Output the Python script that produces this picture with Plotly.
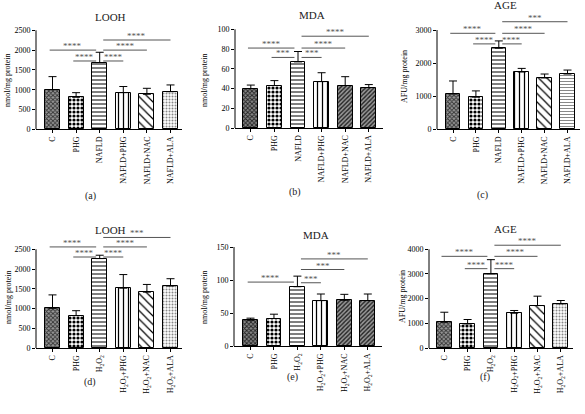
import plotly.graph_objects as go

W, H = 585, 414

cats_nafld = ["C", "PHG", "NAFLD", "NAFLD+PHG", "NAFLD+NAC", "NAFLD+ALA"]
cats_h2o2 = ["C", "PHG", "H<sub>2</sub>O<sub>2</sub>", "H<sub>2</sub>O<sub>2</sub>+PHG",
             "H<sub>2</sub>O<sub>2</sub>+NAC", "H<sub>2</sub>O<sub>2</sub>+ALA"]

looh_nafld_mean = [1000, 810, 1685, 925, 885, 950]
looh_nafld_sd = [330, 115, 260, 155, 150, 170]
mda_nafld_mean = [40, 43, 67, 47, 43, 41]
mda_nafld_sd = [3.5, 5, 10.5, 9, 9, 3]
age_nafld_mean = [1070, 970, 2450, 1730, 1550, 1670]
age_nafld_sd = [390, 190, 220, 110, 120, 120]
looh_h2o2_mean = [1005, 820, 2265, 1515, 1415, 1570]
looh_h2o2_sd = [340, 125, 85, 345, 195, 185]
mda_h2o2_mean = [39.5, 42, 90, 69, 69.5, 69]
mda_h2o2_sd = [3, 6.5, 16, 10, 9, 10]
age_h2o2_mean = [1045, 975, 3010, 1410, 1720, 1790]
age_h2o2_sd = [405, 180, 570, 110, 380, 135]

sig_a = [(0, 2, 2000, "****"), (1, 2, 1725, "****"), (2, 3, 1725, "****"), (2, 4, 2000, "****"), (2, 5, 2255, "****")]
sig_b = [(0, 2, 81, "****"), (1, 2, 71.5, "***"), (2, 3, 71.5, "***"), (2, 4, 81, "****"), (2, 5, 93, "****")]
sig_c = [(0, 2, 2900, "****"), (1, 2, 2580, "****"), (2, 3, 2580, "****"), (2, 4, 2900, "****"), (2, 5, 3250, "***")]
sig_d = [(0, 2, 2560, "****"), (1, 2, 2305, "****"), (2, 3, 2305, "****"), (2, 4, 2560, "****"), (2, 5, 2800, "***")]
sig_e = [(0, 2, 97, "****"), (2, 3, 96, "***"), (2, 4, 116, "***"), (2, 5, 132, "***")]
sig_f = [(0, 2, 3715, "****"), (1, 2, 3215, "****"), (2, 3, 3215, "****"), (2, 4, 3715, "****"), (2, 5, 4165, "****")]

# patterns (style)
PAT_STD = dict(shape=["x", ".", "-", "|", "\\", "."],
               fgcolor=["#333333", "#000000", "#000000", "#000000", "#000000", "#888888"],
               bgcolor=["#999999", "#ffffff", "#ffffff", "#ffffff", "#ffffff", "#ffffff"],
               size=[3, 4, 4, 5, 6, 3], solidity=[0.5, 0.5, 0.25, 0.25, 0.2, 0.35])
PAT_DARK = dict(shape=["x", ".", "-", "|", "/", "/"],
                fgcolor=["#222222", "#000000", "#000000", "#000000", "#222222", "#222222"],
                bgcolor=["#888888", "#ffffff", "#ffffff", "#ffffff", "#999999", "#999999"],
                size=[3, 4, 4, 5, 3, 3], solidity=[0.5, 0.5, 0.25, 0.25, 0.45, 0.45])
PAT_C = dict(shape=["x", ".", "-", "|", "\\", "-"],
             fgcolor=["#333333", "#000000", "#000000", "#000000", "#000000", "#888888"],
             bgcolor=["#999999", "#ffffff", "#ffffff", "#ffffff", "#ffffff", "#ffffff"],
             size=[3, 4, 4, 5, 6, 3], solidity=[0.5, 0.5, 0.25, 0.25, 0.2, 0.35])

panels = [
    dict(title="LOOH", lab="(a)", cats=cats_nafld, mean=looh_nafld_mean, sd=looh_nafld_sd, sig=sig_a,
         ymax=2500, dt=500, ytitle="nmol/mg protein", pat=PAT_STD,
         xl=36, cx0=52.5, sp=23.6, xr=182, y0=129.3, ytp=30.3, top=2,
         tpos=(110, 17), lpos=(90, 196), ytpos=(8, 80)),
    dict(title="MDA", lab="(b)", cats=cats_nafld, mean=mda_nafld_mean, sd=mda_nafld_sd, sig=sig_b,
         ymax=100, dt=20, ytitle="nmol/mg protein", pat=PAT_DARK,
         xl=235, cx0=250.8, sp=23.6, xr=383, y0=128, ytp=29.3, top=2,
         tpos=(312, 15), lpos=(295, 192), ytpos=(205, 80)),
    dict(title="AGE", lab="(c)", cats=cats_nafld, mean=age_nafld_mean, sd=age_nafld_sd, sig=sig_c,
         ymax=3000, dt=1000, ytitle="AFU/mg protein", pat=PAT_C,
         xl=437, cx0=453, sp=22.9, xr=580, y0=129.3, ytp=30, top=2,
         tpos=(505, 5), lpos=(482, 195), ytpos=(405, 77)),
    dict(title="LOOH", lab="(d)", cats=cats_h2o2, mean=looh_h2o2_mean, sd=looh_h2o2_sd, sig=sig_d,
         ymax=2500, dt=500, ytitle="nmol/mg protein", pat=PAT_STD,
         xl=36, cx0=52.5, sp=23.6, xr=182, y0=348, ytp=249.3, top=216,
         tpos=(110, 230), lpos=(90, 382), ytpos=(8, 297)),
    dict(title="MDA", lab="(e)", cats=cats_h2o2, mean=mda_h2o2_mean, sd=mda_h2o2_sd, sig=sig_e,
         ymax=150, dt=50, ytitle="nmol/mg protein", pat=PAT_DARK,
         xl=234, cx0=250.5, sp=23.46, xr=382, y0=346.3, ytp=247, top=216,
         tpos=(316, 235), lpos=(292, 377), ytpos=(204, 297)),
    dict(title="AGE", lab="(f)", cats=cats_h2o2, mean=age_h2o2_mean, sd=age_h2o2_sd, sig=sig_f,
         ymax=4000, dt=1000, ytitle="AFU/mg protein", pat=PAT_STD,
         xl=429, cx0=444.3, sp=23.3, xr=573, y0=348, ytp=249.3, top=216,
         tpos=(505, 229), lpos=(485, 377), ytpos=(402, 297)),
]

FONT = "Liberation Serif"
fig = go.Figure()
shapes, annots = [], []

def px(x):
    return x / W

def py(y):
    return 1 - y / H

for k, p in enumerate(panels):
    n = "" if k == 0 else str(k + 1)
    xa, ya = "x" + n, "y" + n
    s = (p["y0"] - p["ytp"]) / p["ymax"]
    R = (p["y0"] - p["top"]) / s
    xr0 = -(p["cx0"] - p["xl"]) / p["sp"]
    xr1 = (p["xr"] - p["cx0"]) / p["sp"]
    xs = list(range(len(p["cats"])))
    fig.add_trace(go.Bar(
        x=xs, y=p["mean"], width=0.63, xaxis=xa, yaxis=ya, showlegend=False,
        marker=dict(color="white", line=dict(color="black", width=1),
                    pattern=dict(fillmode="replace", **p["pat"])),
        error_y=dict(type="data", symmetric=False, array=p["sd"], arrayminus=[0] * len(xs),
                     color="black", thickness=1, width=4),
    ))
    fig.update_layout({
        ("xaxis" + n): dict(domain=[px(p["xl"]), px(p["xr"])], range=[xr0, xr1], anchor=ya,
                            showline=True, linecolor="black", linewidth=1, ticks="outside",
                            ticklen=3, tickcolor="black", tickvals=xs, ticktext=p["cats"],
                            tickangle=-90, showgrid=False, zeroline=False, automargin=False,
                            tickfont=dict(family=FONT, size=8, color="black")),
        ("yaxis" + n): dict(domain=[py(p["y0"]), py(p["top"])], range=[0, R], anchor=xa,
                            showline=False, ticks="outside", ticklen=3, tickcolor="black",
                            tickvals=list(range(0, p["ymax"] + 1, p["dt"])),
                            showgrid=False, zeroline=False, automargin=False,
                            tickfont=dict(family=FONT, size=8, color="black")),
    })
    shapes.append(dict(type="line", xref=xa + " domain", yref=ya, x0=0, x1=0, y0=0, y1=p["ymax"],
                       line=dict(color="black", width=1)))
    for (i, j, yv, txt) in p["sig"]:
        if i < 2:
            x0, x1 = i - 0.12, 1.85
        else:
            x0, x1 = 2.15, j
        shapes.append(dict(type="line", xref=xa, yref=ya, x0=x0, x1=x1, y0=yv, y1=yv,
                           line=dict(color="#555555", width=1)))
        annots.append(dict(x=(x0 + x1) / 2, y=yv, xref=xa, yref=ya, text=txt, showarrow=False,
                           yanchor="bottom", yshift=-3,
                           font=dict(family=FONT, size=9, color="#555555")))
    annots.append(dict(x=px(p["tpos"][0]), y=py(p["tpos"][1]), xref="paper", yref="paper",
                       text=p["title"], showarrow=False, xanchor="center", yanchor="middle",
                       font=dict(family=FONT, size=11, color="#222222")))
    annots.append(dict(x=px(p["lpos"][0]), y=py(p["lpos"][1]), xref="paper", yref="paper",
                       text=p["lab"], showarrow=False, xanchor="center", yanchor="middle",
                       font=dict(family=FONT, size=10, color="#222222")))
    annots.append(dict(x=px(p["ytpos"][0]), y=py(p["ytpos"][1]), xref="paper", yref="paper",
                       text=p["ytitle"], showarrow=False, textangle=-90, xanchor="center",
                       yanchor="middle", font=dict(family=FONT, size=8, color="black")))

fig.update_layout(width=W, height=H, margin=dict(l=0, r=0, t=0, b=0),
                  paper_bgcolor="white", plot_bgcolor="white", bargap=0,
                  shapes=shapes, annotations=annots)
fig.write_html("out.html", config={"displayModeBar": False},
               post_script="document.body.style.margin='0';document.body.style.padding='0';")
